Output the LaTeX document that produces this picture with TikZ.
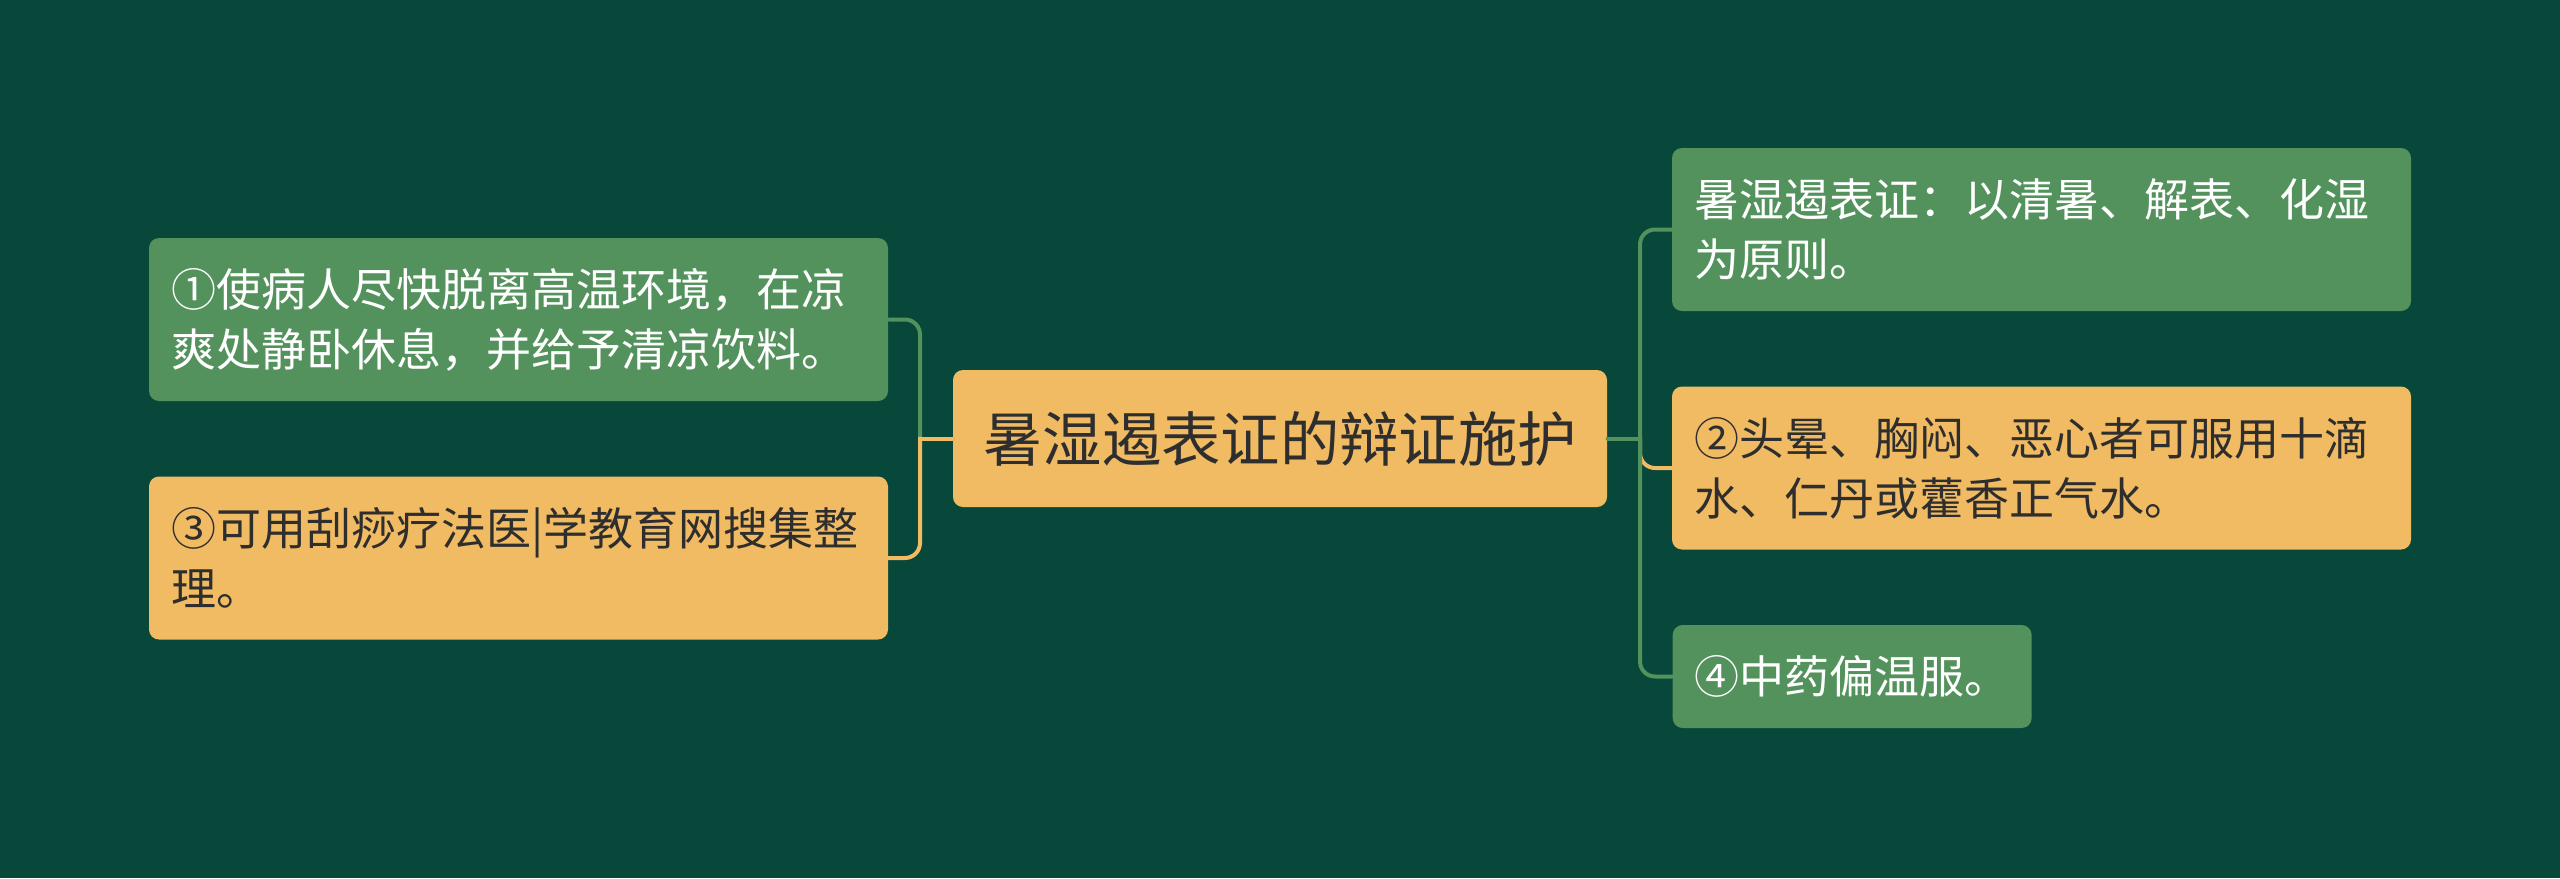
\documentclass[tikz,border=0pt]{standalone}
\usepackage{fontspec}
\newfontfamily\cjk{Noto Sans CJK SC}
\usepackage{tikz}
\usetikzlibrary{calc}
\definecolor{bgdeep}{HTML}{07483A}
\definecolor{leafgreen}{HTML}{53925C}
\definecolor{leaforange}{HTML}{F0BB63}
\definecolor{inkdark}{HTML}{2E2E2E}
\tikzstyle{link} = [line width=1.2pt, line cap=round]

\begin{document}
\begin{tikzpicture}[
            x=0.3pt, y=-0.3pt,
            every node/.style={font=\cjk\fontsize{13.5}{18}\selectfont},
            topic/.style={rectangle, rounded corners=3pt, fill=leaforange, text=inkdark, minimum width=196.2pt, minimum height=41.1pt, font=\cjk\fontsize{17.8}{22}\selectfont},
            greenbox/.style={rectangle, rounded corners=3pt, fill=leafgreen, text=white, text width=208.5pt, inner xsep=6.6pt, minimum height=48.9pt, align=left},
            orangebox/.style={rectangle, rounded corners=3pt, fill=leaforange, text=inkdark, text width=208.5pt, inner xsep=6.6pt, minimum height=48.9pt, align=left}
        ]
            \fill [bgdeep] (0,0) rectangle (2560,878);
            \useasboundingbox (0,0) rectangle (2560,878);

            % Nodes
            \node (topic) [topic] at (1280,438.5) {暑湿遏表证的辩证施护};
            \node (left1) [greenbox] at (518.5,319.5) {①使病人尽快脱离高温环境，在凉\\爽处静卧休息，并给予清凉饮料。};
            \node (left3) [orangebox] at (518.5,558) {③可用刮痧疗法医|学教育网搜集整\\理。};
            \node (right0) [greenbox] at (2041.5,229.5) {暑湿遏表证：以清暑、解表、化湿\\为原则。};
            \node (right2) [orangebox] at (2041.5,468) {②头晕、胸闷、恶心者可服用十滴\\水、仁丹或藿香正气水。};
            \node (right4) [greenbox, text width=, anchor=west, minimum width=106.8pt, minimum height=30.9pt] at (1672,676.5) {④中药偏温服。};

            \coordinate (ljoin) at (920,438.5);
            \coordinate (rjoin) at (1640,438.5);

            % Arrows
            \draw [link, leafgreen] (topic.west) -- (ljoin);
            \draw [link, leafgreen, rounded corners=4.5pt] (ljoin) |- (left1.east);
            \draw [link, leaforange] (topic.west) -- (ljoin);
            \draw [link, leaforange, rounded corners=4.5pt] (ljoin) |- (left3.east);
            \draw [link, leaforange, rounded corners=4.5pt] (rjoin) |- (right2.west);
            \draw [link, leafgreen] (topic.east) -- (rjoin);
            \draw [link, leafgreen, rounded corners=4.5pt] (rjoin) |- (right4.west);
            \draw [link, leafgreen, rounded corners=4.5pt] (rjoin) |- (right0.west);
        \end{tikzpicture}
\end{document}
